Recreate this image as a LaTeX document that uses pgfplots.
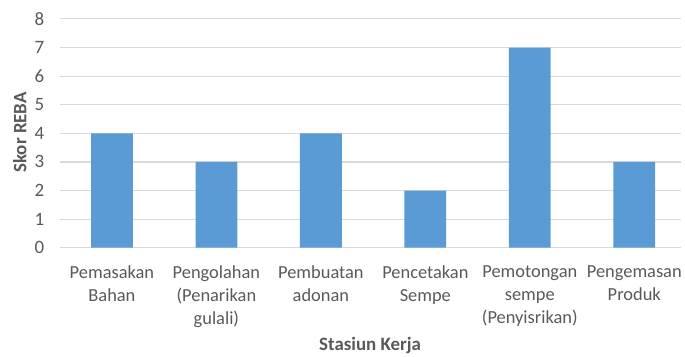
\documentclass[border=0pt]{standalone}
\usepackage{fontspec}
\setmainfont{Carlito}
\usepackage{pgfplots}
\pgfplotsset{compat=1.18}
\definecolor{barblue}{HTML}{5B9BD5}
\definecolor{gridgray}{HTML}{D9D9D9}
\definecolor{txt}{HTML}{595959}
\begin{document}
\begin{tikzpicture}[x=1pt,y=1pt]
\path (0,0) rectangle (685,358);
\begin{axis}[
  at={(60pt,109pt)}, anchor=south west,
  scale only axis, width=624.75pt, height=230pt,
  xmin=-0.5, xmax=5.45, ymin=0, ymax=8,
  ytick={0,...,8},
  xtick=data,
  xticklabels={Pemasakan\\Bahan, Pengolahan\\(Penarikan\\gulali), Pembuatan\\adonan, Pencetakan\\Sempe, Pemotongan\\sempe\\(Penyisrikan), Pengemasan\\Produk},
  axis line style={draw=none},
  major tick length=0pt,
  ymajorgrids, grid style={gridgray, line width=1.2pt},
  /pgf/number format/assume math mode=true,
  yticklabel style={text=txt, font=\fontsize{19}{20}\selectfont, xshift=-12pt},
  xticklabel style={text=txt, font=\fontsize{18.5}{23}\selectfont, align=center, yshift=-15pt},
  clip=false,
]
\addplot[ybar, bar width=42pt, fill=barblue, draw=none] coordinates {(0,4) (1,3) (2,4) (3,2) (4,7) (5,3)};
\end{axis}
\node[text=txt, font=\fontsize{19}{22}\selectfont\bfseries] at (372,358-347) {Stasiun Kerja};
\node[text=txt, font=\fontsize{19}{22}\selectfont\bfseries, rotate=90] at (20,358-133) {Skor REBA};
\end{tikzpicture}
\end{document}
